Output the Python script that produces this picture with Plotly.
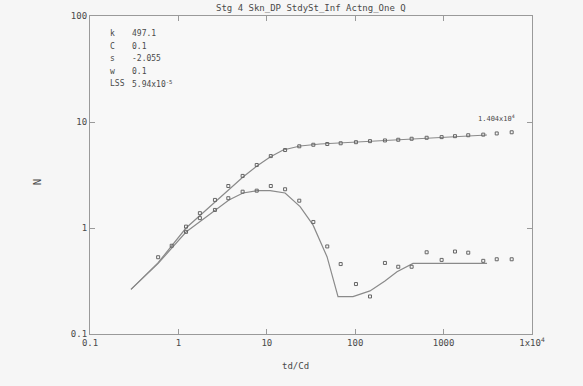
import math
import plotly.graph_objects as go

# ---- data ----
# model curves (pressure and derivative)
model_x = [0.291, 0.587, 1.22, 2.59, 5.38, 7.74, 10.9, 15.3, 23.8, 40, 113, 321, 910, 3100]
model_p = [0.264, 0.468, 1.0, 1.76, 3.03, 3.85, 4.67, 5.44, 5.94, 6.2, 6.5, 6.76, 7.06, 7.54]

deriv_x = [0.291, 0.587, 1.22, 2.59, 3.73, 5.38, 7.74, 10.9, 16.1, 23.8, 33.3, 48, 63.9, 94.4, 147, 217, 297, 451, 3100]
deriv_y = [0.264, 0.461, 0.916, 1.45, 1.84, 2.14, 2.25, 2.25, 2.14, 1.59, 1.07, 0.536, 0.225, 0.225, 0.255, 0.316, 0.387, 0.464, 0.464]

# measured points
pts_p_x = [0.59, 0.84, 1.22, 1.75, 2.59, 3.67, 5.33, 7.69, 11.1, 16.1, 23.3, 33.6, 48.3, 68.5, 102, 147, 217, 307, 435, 643, 950, 1345, 1900, 2810, 3990, 5890]
pts_p_y = [0.53, 0.68, 1.03, 1.38, 1.84, 2.49, 3.10, 3.93, 4.77, 5.44, 5.9, 6.1, 6.2, 6.3, 6.45, 6.6, 6.7, 6.8, 6.95, 7.1, 7.2, 7.35, 7.5, 7.6, 7.8, 8.0]

pts_d_x = [1.22, 1.75, 2.59, 3.67, 5.33, 7.69, 11.1, 16.1, 23.3, 33.6, 48.3, 68.5, 102, 147, 217, 307, 435, 643, 950, 1345, 1900, 2810, 3990, 5890]
pts_d_y = [0.92, 1.24, 1.48, 1.91, 2.20, 2.25, 2.49, 2.32, 1.81, 1.14, 0.67, 0.457, 0.296, 0.226, 0.468, 0.431, 0.431, 0.59, 0.50, 0.60, 0.585, 0.49, 0.507, 0.507]

x_tickvals = [0.1, 1, 10, 100, 1000, 10000]
x_ticktext = ["0.1", "1", "10", "100", "1000", "1x10<sup>4</sup>"]
y_tickvals = [0.1, 1, 10, 100]
y_ticktext = ["0.1", "1", "10", "100"]

params = [("k", "497.1"), ("C", "0.1"), ("s", "-2.055"), ("w", "0.1"), ("LSS", "5.94x10<sup>-5</sup>")]

title = "Stg 4 Skn_DP StdySt_Inf Actng_One Q"
end_label = "1.404x10<sup>4</sup>"
end_label_x = 4000
end_label_y = 8.6

LINE = "#8a8a8a"
TXT = "#4a4a4a"
FONT = "DejaVu Sans Mono"

fig = go.Figure()
fig.add_trace(go.Scatter(x=model_x, y=model_p, mode="lines", line=dict(color=LINE, width=1.2), showlegend=False))
fig.add_trace(go.Scatter(x=deriv_x, y=deriv_y, mode="lines", line=dict(color=LINE, width=1.2), showlegend=False))
fig.add_trace(go.Scatter(x=pts_p_x, y=pts_p_y, mode="markers",
                         marker=dict(symbol="square-open", size=3, color="#666", line=dict(width=1, color="#666")), showlegend=False))
fig.add_trace(go.Scatter(x=pts_d_x, y=pts_d_y, mode="markers",
                         marker=dict(symbol="square-open", size=3, color="#666", line=dict(width=1, color="#666")), showlegend=False))

axis_common = dict(showgrid=False, zeroline=False, showline=True, linecolor="#9a9a9a", linewidth=1.2,
                   ticks="inside", ticklen=5, tickcolor="#9a9a9a", mirror="ticks",
                   tickfont=dict(family=FONT, size=9, color=TXT))
fig.update_xaxes(type="log", range=[-1, 4], tickvals=x_tickvals, ticktext=x_ticktext, **axis_common)
fig.update_yaxes(type="log", range=[-1, 2], tickvals=y_tickvals, ticktext=y_ticktext, **axis_common)

ann = []
ann.append(dict(text=title, x=0.5, y=1.0, xref="paper", yref="paper", xanchor="center", yanchor="bottom",
                yshift=1, showarrow=False, font=dict(family=FONT, size=9, color=TXT)))
for i, (k, v) in enumerate(params):
    yy = 0.944 - i * 0.0393
    ann.append(dict(text=k, x=0.041, y=yy, xref="paper", yref="paper", xanchor="left", yanchor="middle",
                    showarrow=False, font=dict(family=FONT, size=8, color=TXT)))
    ann.append(dict(text=v, x=0.09, y=yy, xref="paper", yref="paper", xanchor="left", yanchor="middle",
                    showarrow=False, font=dict(family=FONT, size=8, color=TXT)))
# annotations on log axes take log10 positions
ann.append(dict(text=end_label, x=math.log10(end_label_x), y=math.log10(end_label_y), xref="x", yref="y",
                xanchor="center", yanchor="bottom", yshift=4, showarrow=False,
                font=dict(family=FONT, size=7, color=TXT)))
ann.append(dict(text="td/Cd", x=0.465, y=-0.08, xref="paper", yref="paper", xanchor="center", yanchor="top",
                showarrow=False, font=dict(family=FONT, size=9, color=TXT)))
ann.append(dict(text="N", x=-0.12, y=0.48, xref="paper", yref="paper", xanchor="center", yanchor="middle",
                textangle=-90, showarrow=False, font=dict(family=FONT, size=11, color=TXT)))
fig.update_layout(annotations=ann)

fig.update_layout(width=583, height=386, margin=dict(l=90, r=51, t=16, b=52),
                  paper_bgcolor="#f6f6f6", plot_bgcolor="#f8f8f8")

fig.write_html("out.html")
